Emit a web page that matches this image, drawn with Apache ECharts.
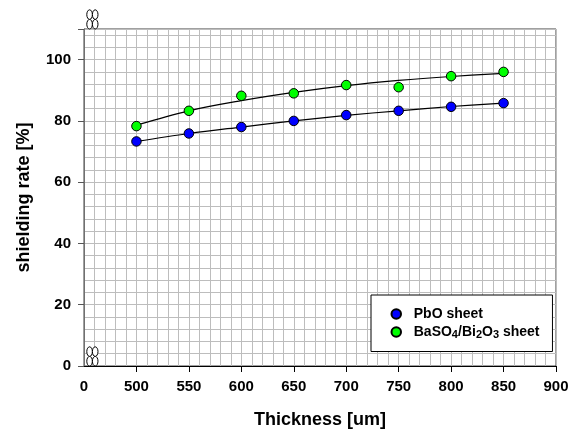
<!DOCTYPE html>
<html><head><meta charset="utf-8">
<script src="https://cdn.jsdelivr.net/npm/echarts@6/dist/echarts.min.js"></script>
<style>html,body{margin:0;padding:0;background:#fff}#c{width:577px;height:431px}</style>
</head><body><div id="c"></div>
<script>
// ---- data ----
const thickness = [500, 550, 600, 650, 700, 750, 800, 850];
const pboValues = [73.3, 75.9, 78.0, 80.0, 81.9, 83.3, 84.6, 85.8];
const basoValues = [78.3, 83.3, 88.2, 89.0, 91.7, 91.0, 94.6, 96.0];
const pboFit = [73.3, 75.9, 78.0, 80.0, 81.8, 83.3, 84.7, 85.8];
const basoFit = [78.6, 83.3, 86.6, 89.3, 91.5, 93.2, 94.5, 95.5];
const xTickValues = [450, 500, 550, 600, 650, 700, 750, 800, 850, 900];
const xTickLabels = ['0', '500', '550', '600', '650', '700', '750', '800', '850', '900'];
const yTickValues = [0, 20, 40, 60, 80, 100];
const yTickLabels = ['0', '20', '40', '60', '80', '100'];
const seriesNames = ['PbO sheet', 'BaSO4/Bi2O3 sheet'];

const FONT = '"Liberation Sans", Arial, sans-serif';
const pair = (xs, ys) => xs.map((x, i) => [x, ys[i]]);

const chart = echarts.init(document.getElementById('c'), null, {renderer: 'canvas'});
const gridColor = '#bdbdbd';
chart.setOption({
  backgroundColor: '#fff',
  animation: false,
  grid: {left: 84, right: 21, top: 29, bottom: 65, show: true, borderColor: '#404040', borderWidth: 1,
         backgroundColor: 'transparent', containLabel: false, outerBoundsMode: 'none'},
  xAxis: [
    {type: 'value', min: 450, max: 900, interval: 10, position: 'bottom',
     axisLine: {show: false}, axisTick: {show: false}, axisLabel: {show: false},
     splitLine: {show: true, lineStyle: {color: gridColor, width: 1}}},
    {type: 'value', min: 450, max: 900, interval: 50, position: 'bottom',
     name: 'Thickness [um]', nameLocation: 'middle', nameGap: 45,
     nameTextStyle: {fontFamily: FONT, fontWeight: 'bold', fontSize: 18, color: '#000'},
     axisLine: {show: true, onZero: false, lineStyle: {color: '#000', width: 1}},
     axisTick: {show: true, length: 6, inside: false, customValues: xTickValues.slice(1), lineStyle: {color: '#000'}},
     axisLabel: {show: true, margin: 13, fontFamily: FONT, fontWeight: 'bold', fontSize: 15, color: '#000',
       formatter: v => { const i = xTickValues.indexOf(v); return i >= 0 ? xTickLabels[i] : ''; }},
     splitLine: {show: false}}
  ],
  yAxis: [
    {type: 'value', min: 0, max: 110, interval: 4, position: 'left',
     axisLine: {show: false}, axisTick: {show: false}, axisLabel: {show: false},
     splitLine: {show: true, lineStyle: {color: gridColor, width: 1}}},
    {type: 'value', min: 0, max: 110, interval: 20, position: 'left',
     name: 'shielding rate [%]', nameLocation: 'middle', nameGap: 51, nameRotate: 90,
     nameTextStyle: {fontFamily: FONT, fontWeight: 'bold', fontSize: 18, color: '#000'},
     axisLine: {show: true, onZero: false, lineStyle: {color: '#707070', width: 1}},
     axisTick: {show: true, length: 6, lineStyle: {color: '#555'}},
     axisLabel: {show: true, margin: 13, fontFamily: FONT, fontWeight: 'bold', fontSize: 15, color: '#000',
       formatter: v => { const i = yTickValues.indexOf(v); return i >= 0 ? yTickLabels[i] : ''; }},
     splitLine: {show: false}}
  ],
  legend: {
    data: seriesNames, orient: 'vertical', left: 371, top: 295,
    padding: [12, 13, 11, 19.5], itemGap: 4, itemWidth: 25, itemHeight: 9.5,
    borderColor: '#000', borderWidth: 1, backgroundColor: '#fff', icon: 'circle',
    formatter: name => name === 'BaSO4/Bi2O3 sheet'
      ? '{n|BaSO}{s|4}{n|/Bi}{s|2}{n|O}{s|3}{n| sheet}' : '{n|' + name + '}',
    textStyle: {rich: {
      n: {fontFamily: FONT, fontWeight: 'bold', fontSize: 14, color: '#000'},
      s: {fontFamily: FONT, fontWeight: 'bold', fontSize: 11, color: '#000', padding: [6, 0, 0, 0]}
    }}
  },
  series: [
    {type: 'line', name: 'pboFit', xAxisIndex: 1, yAxisIndex: 1, data: pair(thickness, pboFit), smooth: 0.35,
     showSymbol: false, symbol: 'none', silent: true, z: 1, lineStyle: {color: '#000', width: 1.2}},
    {type: 'line', name: 'basoFit', xAxisIndex: 1, yAxisIndex: 1, data: pair(thickness, basoFit), smooth: 0.35,
     showSymbol: false, symbol: 'none', silent: true, z: 1, lineStyle: {color: '#000', width: 1.2}},
    {type: 'scatter', name: seriesNames[0], xAxisIndex: 1, yAxisIndex: 1, data: pair(thickness, pboValues),
     symbol: 'circle', symbolSize: 9.5, z: 3, itemStyle: {color: '#0000ff', borderColor: '#000', borderWidth: 1, opacity: 1}},
    {type: 'scatter', name: seriesNames[1], xAxisIndex: 1, yAxisIndex: 1, data: pair(thickness, basoValues),
     symbol: 'circle', symbolSize: 9.5, z: 3, itemStyle: {color: '#00ff00', borderColor: '#000', borderWidth: 1, opacity: 1}}
  ]
});

// axis-break symbols ("88") on the x axis, placed via the axis scale
function breakMark(xVal, yVal) {
  const p = chart.convertToPixel({xAxisIndex: 1, yAxisIndex: 1}, [xVal, yVal]);
  const rx = 2.8, ry = 4.8, out = [];
  [-2.8, 2.8].forEach(dx => {
    [ry, 3 * ry].forEach(dy => {
      out.push({type: 'ellipse', z: 100, shape: {cx: p[0] + dx, cy: p[1] - dy, rx: rx, ry: ry},
        style: {fill: '#fff', stroke: '#000', lineWidth: 1}});
    });
  });
  return out;
}
chart.setOption({graphic: [].concat(breakMark(458, 110), breakMark(458, 0))});
</script>
</body></html>
